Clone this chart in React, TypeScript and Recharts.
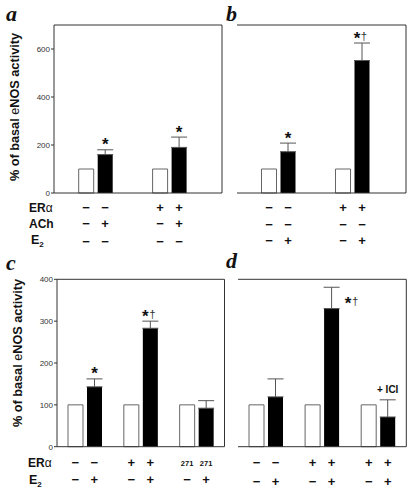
import React from 'react';
import { BarChart, Bar, XAxis, YAxis, ErrorBar, LabelList, CartesianGrid } from 'recharts';

const SANS = '"Liberation Sans", Arial, Helvetica, sans-serif';
const SERIF = '"Liberation Serif", "Times New Roman", serif';

// panel a: ACh stimulation, without / with ERα
const groupsA = ['ctl', 'ERa'];
const ctrlA = [100, 100];
const treatA = [160, 190];
const errA = [20, 43];
const marksA = ['*', '*'];
const erRowA = ['−', '−', '+', '+'];
const achRowA = ['−', '+', '−', '+'];
const e2RowA = ['−', '−', '−', '−'];

// panel b: E2 stimulation, without / with ERα
const groupsB = ['ctl', 'ERa'];
const ctrlB = [100, 100];
const treatB = [172, 552];
const errB = [36, 73];
const marksB = ['*', '*†'];
const erRowB = ['−', '−', '+', '+'];
const achRowB = ['−', '−', '−', '−'];
const e2RowB = ['−', '+', '−', '+'];

// panel c: ERα and the 271 mutant
const groupsC = ['ctl', 'ERa', '271'];
const ctrlC = [100, 100, 100];
const treatC = [143, 283, 92];
const errC = [19, 17, 18];
const marksC = ['*', '*†', ''];
const erRowC = ['−', '−', '+', '+', '271', '271'];
const e2RowC = ['−', '+', '−', '+', '−', '+'];

// panel d: ERα with ICI
const groupsD = ['ctl', 'ERa', 'ICI'];
const ctrlD = [100, 100, 100];
const treatD = [119, 330, 71];
const errD = [43, 51, 41];
const marksD = ['', '*†', '+ ICI'];
const erRowD = ['−', '−', '+', '+', '+', '+'];
const e2RowD = ['−', '+', '−', '+', '−', '+'];

type Row = { signs: string[]; dy: number };

function buildData(groups: string[], ctrl: number[], treat: number[], err: number[], marks: string[]) {
  return groups.map((g, i) => ({
    g,
    ctrl: ctrl[i],
    treat: treat[i],
    err: [0, err[i]],
    mark: marks[i],
  }));
}

function makeTick(rows: Row[]) {
  return (p: any) => {
    const { x, y, payload } = p;
    const i = payload?.index ?? p.index ?? 0;
    return (
      <g>
        {rows.map((r, k) =>
          [0, 1].map((j) => {
            const s = r.signs[i * 2 + j];
            const small = s !== '+' && s !== '−';
            return (
              <text
                key={k + '-' + j}
                x={x + (j ? 9.5 : -9.5)}
                y={y + r.dy + (small ? 2.8 : 4.5)}
                textAnchor="middle"
                fontFamily={SANS}
                fontWeight="bold"
                fontSize={small ? 7.5 : 13}
                fill="#111"
              >
                {s}
              </text>
            );
          })
        )}
      </g>
    );
  };
}

function makeMark(treat: number[], err: number[], besideIndex: number) {
  return (p: any) => {
    const { x, y, width, height, index, value } = p;
    if (!value) return null;
    const cx = x + width / 2;
    const capY = y - (err[index] * height) / treat[index];
    if (value[0] !== '*') {
      return (
        <text x={cx} y={capY - 7} textAnchor="middle" fontFamily={SANS} fontWeight="bold" fontSize={10} fill="#111">
          {value}
        </text>
      );
    }
    const beside = index === besideIndex;
    // star centre sits ~5px left of the bar centre, or to the right of the error bar
    const starX = beside ? cx + 16.5 : value.length > 1 ? cx - 5 : cx;
    const ty = beside ? y : capY + 0.5;
    return (
      <text x={starX - 3.3} y={ty} fontFamily={SANS} fontWeight="bold" fontSize={17} fill="#111">
        *
        {value.length > 1 && (
          <tspan fontWeight="normal" fontSize={11.5} fill="#333" dx={0.5} dy={-3.5}>
            †
          </tspan>
        )}
      </text>
    );
  };
}

interface PanelProps {
  left: number;
  top: number;
  width: number;
  height: number;
  margin: { top: number; right: number; bottom: number; left: number };
  axisWidth: number;
  axisHeight: number;
  data: any[];
  treat: number[];
  err: number[];
  rows: Row[];
  domain: [number, number];
  ticks?: number[];
  padding: { left: number; right: number };
  besideIndex?: number;
}

function Panel(props: PanelProps) {
  const { left, top, width, height, margin, axisWidth, axisHeight, data, treat, err, rows, domain, ticks, padding } = props;
  const frame = { stroke: '#333', strokeWidth: 1 };
  return (
    <div style={{ position: 'absolute', left, top }}>
      <BarChart width={width} height={height} data={data} margin={margin} barGap={4} barSize={15}>
        {/* top and right edges of the box */}
        <CartesianGrid
          horizontalPoints={[margin.top]}
          verticalPoints={[width - margin.right]}
          stroke="#333"
          strokeWidth={1}
          fill="none"
        />
        <XAxis
          dataKey="g"
          height={axisHeight}
          padding={padding}
          interval={0}
          tickLine={false}
          tickSize={0}
          tickMargin={0}
          axisLine={frame}
          tick={makeTick(rows)}
        />
        <YAxis
          domain={domain}
          ticks={ticks}
          width={axisWidth}
          axisLine={frame}
          tick={ticks ? { fontSize: 8, fill: '#333', fontFamily: SANS } : false}
          tickLine={ticks ? { stroke: '#333' } : false}
          tickSize={3}
          tickMargin={1}
        />
        <Bar dataKey="ctrl" fill="#fff" stroke="#666" strokeWidth={1} isAnimationActive={false} />
        <Bar dataKey="treat" fill="#000" isAnimationActive={false}>
          <ErrorBar dataKey="err" width={8} stroke="#555" strokeWidth={1} direction="y" />
          <LabelList dataKey="mark" content={makeMark(treat, err, props.besideIndex ?? -1)} />
        </Bar>
      </BarChart>
    </div>
  );
}

function YLabel({ x, y }: { x: number; y: number }) {
  return (
    <text
      transform={`translate(${x},${y}) rotate(-90)`}
      textAnchor="middle"
      fontFamily={SANS}
      fontWeight="bold"
      fontSize={12.7}
      fill="#111"
    >
      % of basal <tspan fontWeight="normal">e</tspan>NOS activity
    </text>
  );
}

function RowLabel({ x, y, kind }: { x: number; y: number; kind: string }) {
  if (kind === 'ER')
    return (
      <text x={x} y={y} fontFamily={SANS} fontWeight="bold" fontSize={12} fill="#111">
        ER<tspan fontWeight="normal">α</tspan>
      </text>
    );
  if (kind === 'E2')
    return (
      <text x={x} y={y} fontFamily={SANS} fontWeight="bold" fontSize={12.5} fill="#111">
        E
        <tspan fontSize={8} dy={3}>
          2
        </tspan>
      </text>
    );
  return (
    <text x={x} y={y} fontFamily={SANS} fontWeight="bold" fontSize={12} fill="#111">
      {kind}
    </text>
  );
}

export default function App() {
  const dataA = buildData(groupsA, ctrlA, treatA, errA, marksA);
  const dataB = buildData(groupsB, ctrlB, treatB, errB, marksB);
  const dataC = buildData(groupsC, ctrlC, treatC, errC, marksC);
  const dataD = buildData(groupsD, ctrlD, treatD, errD, marksD);

  const letter = { fontFamily: SERIF, fontWeight: 'bold' as const, fontStyle: 'italic' as const, fontSize: 22, fill: '#111' };

  return (
    <div style={{ position: 'absolute', left: 0, top: 0, width: 419, height: 498, background: '#fff' }}>
      <Panel
        left={0}
        top={0}
        width={225}
        height={250}
        margin={{ top: 25, right: 3, bottom: 2, left: 0 }}
        axisWidth={54}
        axisHeight={55}
        data={dataA}
        treat={treatA}
        err={errA}
        rows={[
          { signs: erRowA, dy: 14 },
          { signs: achRowA, dy: 30 },
          { signs: e2RowA, dy: 48 },
        ]}
        domain={[0, 700]}
        ticks={[0, 200, 400, 600]}
        padding={{ left: 4.7, right: 15.5 }}
      />
      <Panel
        left={200}
        top={0}
        width={210}
        height={250}
        margin={{ top: 25, right: 4, bottom: 2, left: 37 }}
        axisWidth={0}
        axisHeight={55}
        data={dataB}
        treat={treatB}
        err={errB}
        rows={[
          { signs: erRowB, dy: 14 },
          { signs: achRowB, dy: 31.5 },
          { signs: e2RowB, dy: 47.5 },
        ]}
        domain={[0, 700]}
        padding={{ left: 4.5, right: 16.5 }}
      />
      <Panel
        left={0}
        top={250}
        width={228}
        height={248}
        margin={{ top: 29.3, right: 3.5, bottom: 2.3, left: 0 }}
        axisWidth={57}
        axisHeight={49}
        data={dataC}
        treat={treatC}
        err={errC}
        rows={[
          { signs: erRowC, dy: 16 },
          { signs: e2RowC, dy: 33 },
        ]}
        domain={[0, 400]}
        ticks={[0, 100, 200, 300, 400]}
        padding={{ left: 0, right: 0 }}
      />
      <Panel
        left={200}
        top={250}
        width={210}
        height={248}
        margin={{ top: 29.3, right: 3.7, bottom: 2.3, left: 38 }}
        axisWidth={0}
        axisHeight={49}
        data={dataD}
        treat={treatD}
        err={errD}
        rows={[
          { signs: erRowD, dy: 16 },
          { signs: e2RowD, dy: 35 },
        ]}
        domain={[0, 400]}
        padding={{ left: 0, right: 0 }}
        besideIndex={1}
      />
      <svg width={419} height={498} style={{ position: 'absolute', left: 0, top: 0, pointerEvents: 'none' }}>
        <text x={6} y={21} {...letter}>a</text>
        <text x={226} y={21} {...letter}>b</text>
        <text x={6} y={270} {...letter}>c</text>
        <text x={226} y={268} {...letter}>d</text>
        <YLabel x={19} y={107} />
        <YLabel x={22} y={353} />
        <RowLabel x={29} y={211.6} kind="ER" />
        <RowLabel x={29} y={227.6} kind="ACh" />
        <RowLabel x={31} y={243.5} kind="E2" />
        <RowLabel x={28} y={467} kind="ER" />
        <RowLabel x={29} y={483.5} kind="E2" />
      </svg>
    </div>
  );
}
